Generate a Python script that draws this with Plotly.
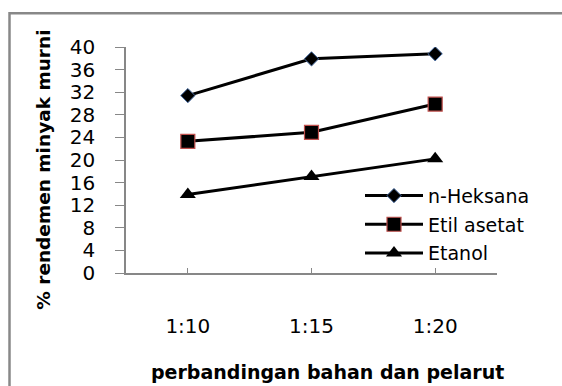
import plotly.graph_objects as go

categories = ["1:10", "1:15", "1:20"]
n_heksana = [31.4, 37.9, 38.8]
etil_asetat = [23.3, 24.9, 29.9]
etanol = [13.9, 17.1, 20.2]
y_ticks = list(range(0, 41, 4))

xpos = list(range(len(categories)))
FONT = "DejaVu Sans"

fig = go.Figure()
fig.add_trace(go.Scatter(
    x=xpos, y=n_heksana, name="n-Heksana", mode="lines+markers",
    line=dict(color="black", width=3), legendgroup="a",
    marker=dict(symbol="diamond", size=11, color="black",
                line=dict(color="#4a6fa5", width=1))))
fig.add_trace(go.Scatter(
    x=xpos, y=etil_asetat, name="Etil asetat", mode="lines+markers",
    line=dict(color="black", width=3), legendgroup="b",
    marker=dict(symbol="square", size=14, color="black",
                line=dict(color="#c0504d", width=1.2))))
fig.add_trace(go.Scatter(
    x=xpos, y=etanol, name="Etanol", mode="lines+markers",
    line=dict(color="black", width=3), legendgroup="c",
    marker=dict(symbol="triangle-up", size=14, color="black",
                line=dict(color="black", width=0))))

W, H = 562, 386
# plot area in screen px
SX0, SX1, SY0, SY1 = 126, 497, 47.3, 273.3
L = SX0
R = W - SX1
T = SY0
B = H - SY1
pw, ph = SX1 - SX0, SY1 - SY0

def px(x):
    return (x - SX0) / pw

def py(y):
    return (SY1 - y) / ph

border = dict(color="#888888", width=2.5)

fig.update_layout(
    width=W, height=H,
    margin=dict(l=L, r=R, t=T, b=B, pad=0),
    paper_bgcolor="white", plot_bgcolor="white",
    font=dict(family=FONT, size=19, color="black"),
    showlegend=True,
    legend=dict(x=px(360), y=py(177), xanchor="left", yanchor="top",
                bgcolor="rgba(0,0,0,0)", font=dict(size=19, family=FONT),
                traceorder="grouped", tracegroupgap=1, itemwidth=58),
    xaxis=dict(range=[-0.5, 2.5], tickvals=xpos + [2.5],
               ticktext=categories + [""], showgrid=False, zeroline=False,
               showline=True, linecolor="#878787", linewidth=1.5,
               ticks="inside", ticklen=5, tickcolor="#878787", tickwidth=1.2,
               ticklabelstandoff=34, tickfont=dict(size=20, family=FONT)),
    yaxis=dict(range=[0, 40], tickvals=y_ticks, showgrid=False, zeroline=False,
               showline=True, linecolor="#878787", linewidth=1.5,
               ticks="outside", ticklen=9, tickcolor="#878787", tickwidth=1.2,
               ticklabelstandoff=16, tickfont=dict(size=20, family=FONT)),
    annotations=[
        dict(text="% rendemen minyak murni", textangle=-90, xref="paper",
             yref="paper", x=px(44), y=py(170), xanchor="center",
             yanchor="middle", showarrow=False,
             font=dict(size=18.5, family=FONT, weight="bold")),
        dict(text="perbandingan bahan dan pelarut", xref="paper",
             yref="paper", x=px(327), y=py(372), xanchor="center",
             yanchor="middle", showarrow=False,
             font=dict(size=19, family=FONT, weight="bold")),
    ],
    shapes=[
        dict(type="line", xref="paper", yref="paper",
             x0=px(9.5), x1=px(600), y0=py(13.5), y1=py(13.5), line=border),
        dict(type="line", xref="paper", yref="paper",
             x0=px(9.5), x1=px(9.5), y0=py(12.3), y1=py(440), line=border),
    ],
)

fig.write_html(
    "out.html",
    config={"displayModeBar": False},
    post_script="document.body.style.margin='0';"
                "document.body.style.overflow='hidden';",
)
